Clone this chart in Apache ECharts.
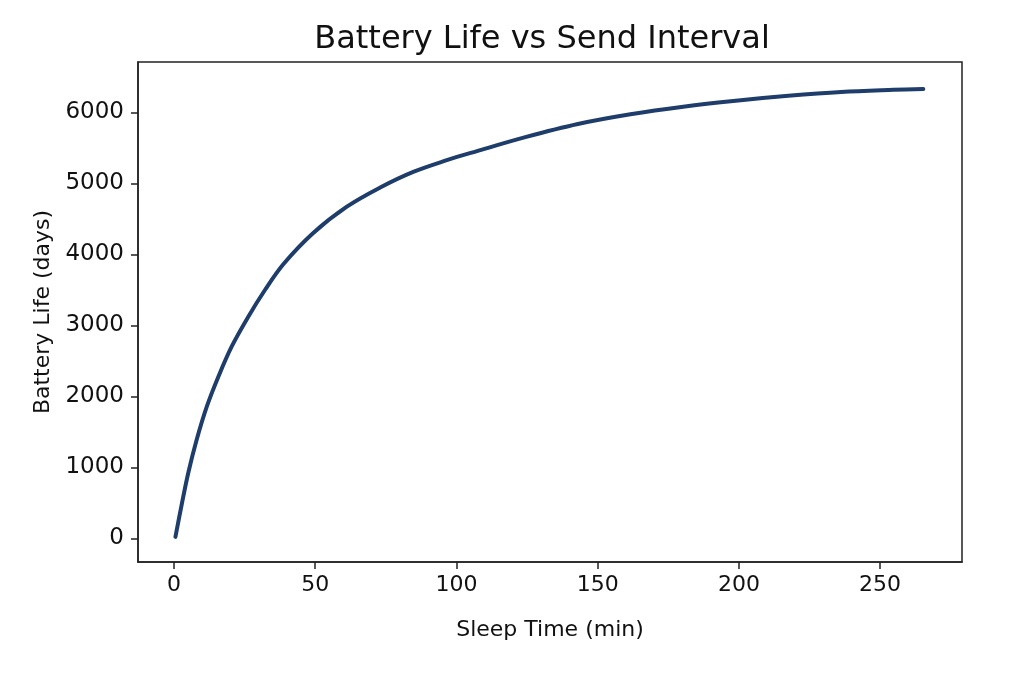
<!DOCTYPE html>
<html lang="en">
<head>
    <meta charset="utf-8">
    <title>Battery Life vs Send Interval</title>
    <script src="https://cdn.jsdelivr.net/npm/echarts@6/dist/echarts.min.js"></script>
    <style>
        html, body { margin: 0; padding: 0; background: #fff; }
        #main { width: 1024px; height: 682px; }
    </style>
</head>
<body>
<div id="main"></div>
<script type="text/javascript">

    // values
    var sleepMin = [0.5, 2.7, 5.1, 8, 11.6, 15.7, 20.4, 26.3, 32.2, 38.7, 49.3, 61.2, 73,
        84.7, 96.6, 107, 124.4, 143, 161.6, 180.3, 198.9, 217.5, 236.2, 254.8, 265.3];
    var lifeDays = [20, 470, 930, 1385, 1854, 2276, 2699, 3121, 3497, 3860, 4300, 4670, 4940,
        5160, 5325, 5450, 5650, 5835, 5972, 6079, 6163, 6232, 6286, 6316, 6328];
    var xTicks = [0, 50, 100, 150, 200, 250];
    var yTicks = [0, 1000, 2000, 3000, 4000, 5000, 6000];

    var points = sleepMin.map(function (t, i) { return [t, lifeDays[i]]; });

    var font = 'DejaVu Sans';
    var axisColor = '#222';

    var myChart = echarts.init(document.getElementById('main'));

    myChart.setOption({
        animation: false,
        backgroundColor: '#fff',
        title: {
            text: 'Battery Life vs Send Interval',
            left: 537,
            top: 19,
            textAlign: 'center',
            textStyle: { fontFamily: font, fontSize: 32, fontWeight: 'normal', color: '#111' }
        },
        grid: { left: 138, right: 62, top: 62, bottom: 120, show: true,
            borderColor: axisColor, borderWidth: 1.5, backgroundColor: 'transparent' },
        xAxis: {
            type: 'value',
            min: -12.75,
            max: 279,
            name: 'Sleep Time (min)',
            nameLocation: 'middle',
            nameGap: 57,
            nameTextStyle: { fontFamily: font, fontSize: 22, color: '#111' },
            splitLine: { show: false },
            axisLine: { show: true, onZero: false, lineStyle: { color: axisColor, width: 1.5 } },
            axisTick: { show: true, length: 7, customValues: xTicks,
                lineStyle: { color: axisColor, width: 1.5 } },
            axisLabel: { customValues: xTicks, margin: 12, fontFamily: font, fontSize: 22, color: '#111',
                formatter: function (v) { return String(v); } }
        },
        yAxis: {
            type: 'value',
            min: -334,
            max: 6708,
            name: 'Battery Life (days)',
            nameLocation: 'middle',
            nameGap: 81,
            nameTextStyle: { fontFamily: font, fontSize: 22, color: '#111' },
            splitLine: { show: false },
            axisLine: { show: true, onZero: false, lineStyle: { color: axisColor, width: 1.5 } },
            axisTick: { show: true, length: 7, customValues: yTicks,
                lineStyle: { color: axisColor, width: 1.5 } },
            axisLabel: { customValues: yTicks, margin: 14, fontFamily: font, fontSize: 23, color: '#111',
                formatter: function (v) { return String(v); } }
        },
        series: [{
            name: 'battery',
            type: 'line',
            data: points,
            smooth: 0.35,
            showSymbol: false,
            lineStyle: { color: '#1e3d6b', width: 4, cap: 'round' }
        }]
    });

</script>
</body>
</html>
